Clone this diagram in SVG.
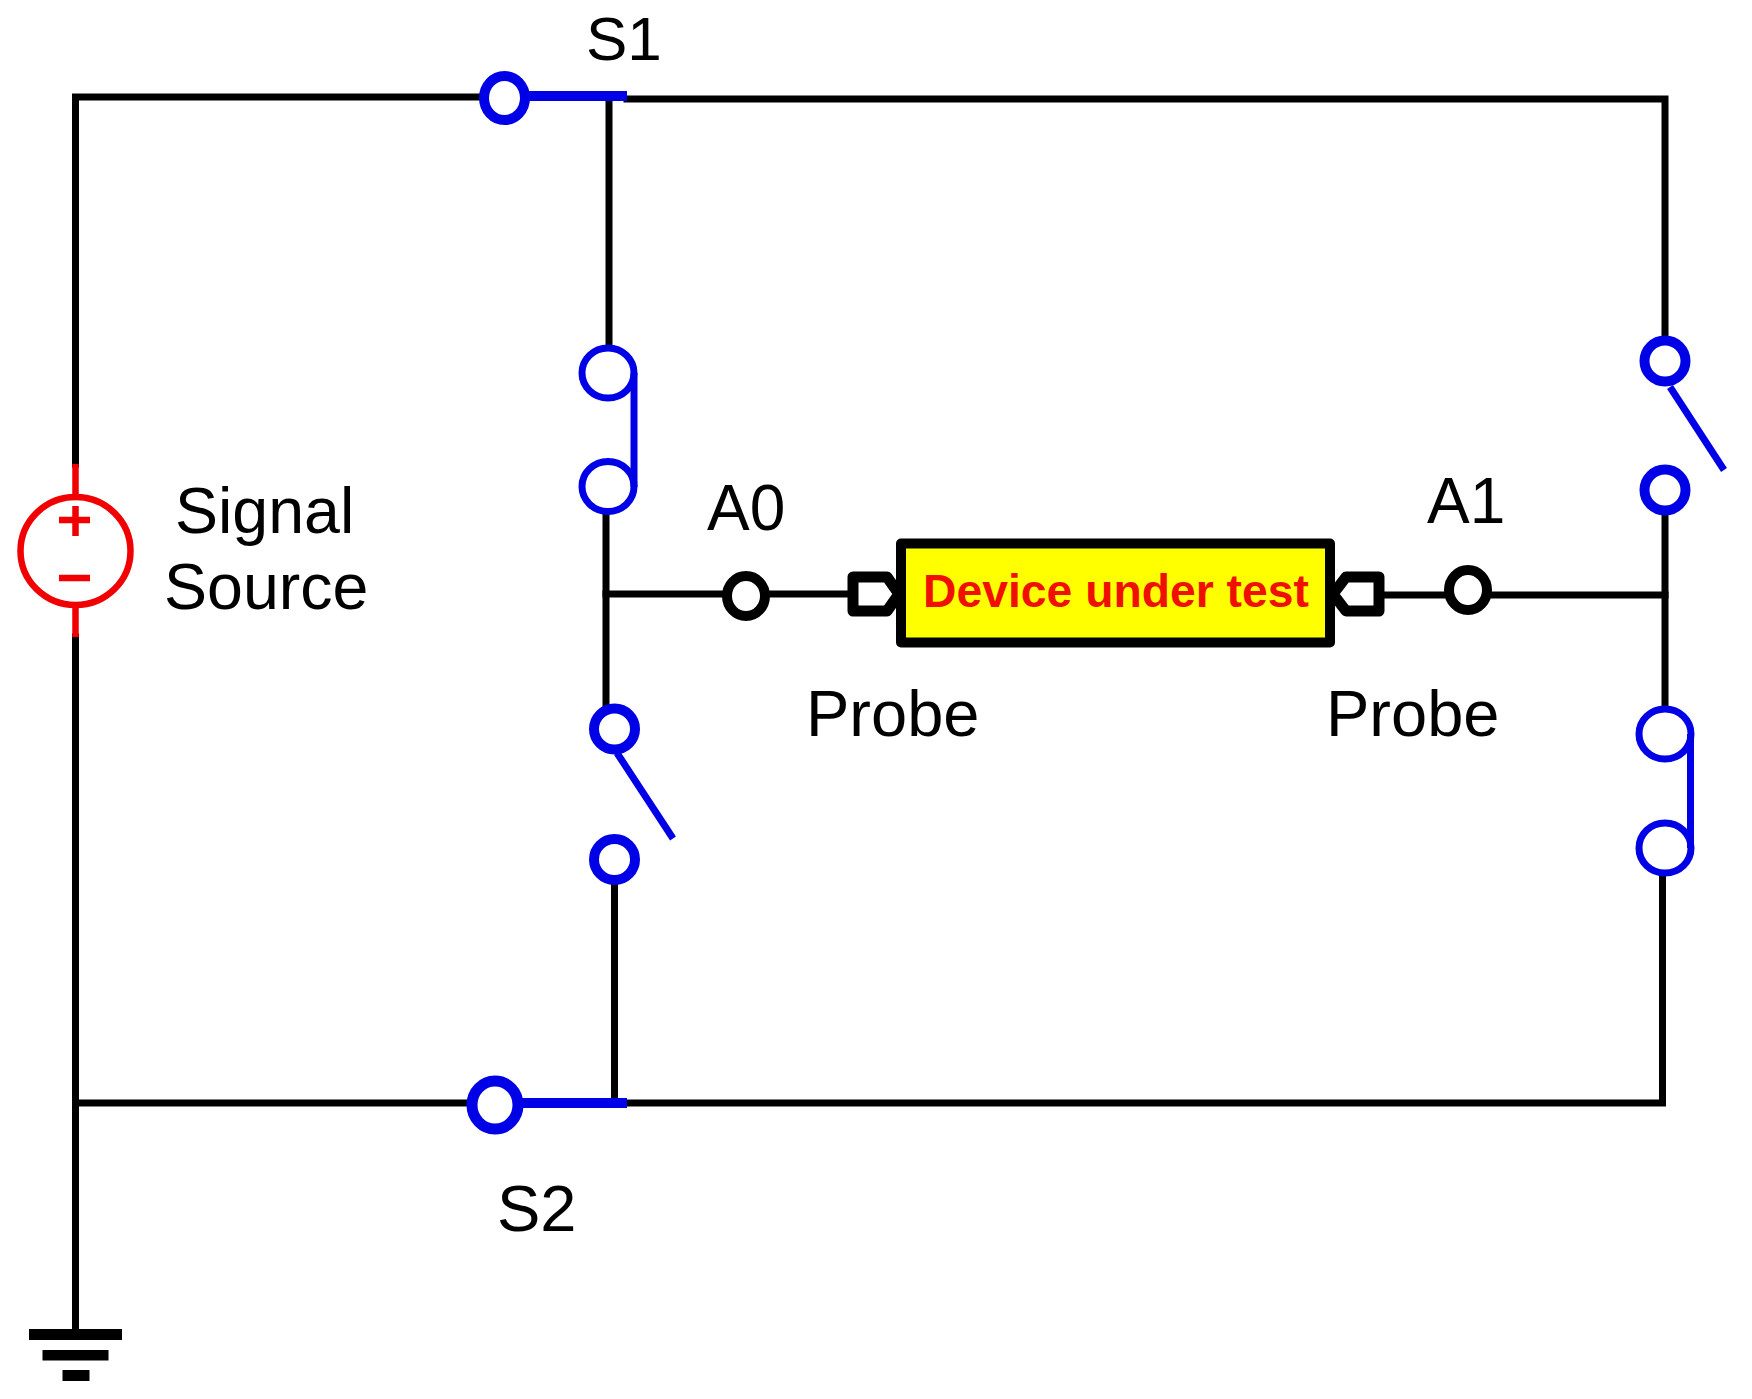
<svg xmlns="http://www.w3.org/2000/svg" width="1752" height="1399" viewBox="0 0 1752 1399">
<style>
.w{fill:none;stroke:#000;stroke-width:7;stroke-linecap:square;stroke-linejoin:miter}
.b{fill:none;stroke:#0000e6;stroke-width:7;stroke-linecap:butt}
.bt{fill:none;stroke:#0000e6;stroke-width:10}
.t{fill:#fff;stroke:#0000e6;stroke-width:10}
.c{fill:#fff;stroke:#0000e6;stroke-width:7}
.k{fill:#fff;stroke:#000;stroke-width:10}
.r{fill:none;stroke:#f00000;stroke-width:6.500}
.g{fill:#000}
.l{font-family:"Liberation Sans",Arial,sans-serif;font-size:64.500px;fill:#000}
</style>
<rect width="1752" height="1399" fill="#fff"/>
<g id="connectors">
<path class="w" d="M504 97H75.500V464"/>
<path class="w" d="M627 99H1665V337"/>
<path class="w" d="M609 97V346"/>
<path class="w" d="M606 513V704"/>
<path class="w" d="M606 594H849"/>
<path class="w" d="M1384 595H1665"/>
<path class="w" d="M1665 509V707"/>
<path class="w" d="M1662.500 870V1103H627"/>
<path class="w" d="M614.500 883V1103"/>
<path class="w" d="M75.500 637V1330"/>
<path class="w" d="M75.500 1103H469"/>
</g>
<g id="signal-source">
<path class="r" d="M75.500 464V494M75.500 608V637"/>
<ellipse cx="75.500" cy="551" rx="55" ry="54" fill="#fff" stroke="#f00000" stroke-width="6.500"/>
<path class="r" d="M59 520H90M75.500 506V536"/>
<path class="r" d="M59 578H90"/>
<text class="l" x="175" y="533">Signal</text>
<text class="l" x="164" y="609">Source</text>
</g>
<g id="switch-s1">
<path class="bt" d="M528 96H627"/>
<ellipse class="t" cx="504.500" cy="98" rx="20.500" ry="22"/>
<text class="l" x="586" y="60" style="font-size:62px">S1</text>
</g>
<g id="switch-s2">
<path class="bt" d="M520 1103H627"/>
<ellipse cx="495" cy="1105" rx="23" ry="24" fill="#fff" stroke="#0000e6" stroke-width="11"/>
<text class="l" x="497" y="1231" style="font-size:65px">S2</text>
</g>
<g id="switch-closed-left">
<ellipse class="c" cx="608" cy="373" rx="26" ry="25"/>
<ellipse class="c" cx="608" cy="486.500" rx="26" ry="25"/>
<path class="b" d="M634 373V487"/>
</g>
<g id="switch-closed-right">
<ellipse class="c" cx="1665" cy="734" rx="26" ry="25"/>
<ellipse class="c" cx="1665" cy="848" rx="26" ry="25"/>
<path class="b" d="M1690.500 734V848"/>
</g>
<g id="switch-open-right">
<path class="b" d="M1670 387L1724 470"/>
<ellipse class="t" cx="1665" cy="361" rx="20.500" ry="20.500"/>
<ellipse class="t" cx="1665" cy="490" rx="20.500" ry="20.500"/>
</g>
<g id="switch-open-left">
<path class="b" d="M617 753L673 838.500"/>
<ellipse class="t" cx="614.500" cy="729" rx="20.500" ry="20.500"/>
<ellipse class="t" cx="614.500" cy="859.500" rx="20.500" ry="20.500"/>
</g>
<g id="test-point-a0">
<ellipse class="k" cx="746" cy="596" rx="19" ry="20"/>
<text class="l" x="707" y="530" style="font-size:64px">A0</text>
</g>
<g id="test-point-a1">
<ellipse class="k" cx="1468" cy="590" rx="19" ry="20"/>
<text class="l" x="1427" y="523" style="font-size:64px">A1</text>
</g>
<g id="probe-left">
<path fill="#fff" stroke="#000" stroke-width="11" stroke-linejoin="round" d="M853 577H887L899 594L887 611H853Z"/>
<text class="l" x="806" y="736" style="font-size:65px">Probe</text>
</g>
<g id="probe-right">
<path fill="#fff" stroke="#000" stroke-width="11" stroke-linejoin="round" d="M1379 577H1346L1333 594L1346 611H1379Z"/>
<text class="l" x="1326" y="736" style="font-size:65px">Probe</text>
</g>
<g id="device-under-test">
<rect x="901" y="543.500" width="429" height="99" fill="#ff0" stroke="#000" stroke-width="10" stroke-linejoin="round"/>
<text x="923" y="607" style="font-family:'Liberation Sans',Arial,sans-serif;font-size:46.300px;font-weight:700;fill:#f01000">Device under test</text>
</g>
<g id="ground">
<rect class="g" x="29" y="1329" width="93" height="11"/>
<rect class="g" x="42.500" y="1350" width="66" height="10.500"/>
<rect class="g" x="62.500" y="1370" width="27" height="11"/>
</g>
</svg>
